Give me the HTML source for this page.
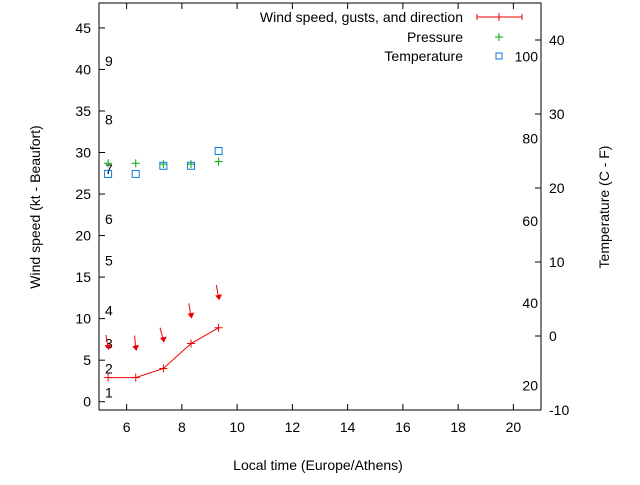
<!DOCTYPE html>
<html><head><meta charset="utf-8"><style>
body{margin:0;background:#fff}
svg{font-family:"Liberation Sans",sans-serif;font-size:14px}
</style></head><body>
<svg id="c" width="640" height="480" xmlns="http://www.w3.org/2000/svg">
<rect width="640" height="480" fill="#fff"/>
<g id="g"></g>
</svg>
<script>
const times=[5.33,6.33,7.33,8.33,9.33];
const windKt=[2.9,2.9,4.0,7.0,8.9];
const gustKt=[6.5,6.4,7.4,10.3,12.5];
const dirDeg=[350,355,345,350,350];
const pressure=[28.7,28.7,28.6,28.6,28.9];
const tempC=[21.9,21.9,23.0,23.0,25.0];
const xTicks=[6,8,10,12,14,16,18,20];
const yTicks=[0,5,10,15,20,25,30,35,40,45];
const cTicks=[-10,0,10,20,30,40];
const fTicks=[20,40,60,80,100];
const beaufortLabels=['1','2','3','4','5','6','7','8','9'];
const beaufortKt=[1.1,4,7,11,17,22,28,34,41];

const L=99,R=541,T=3,B=410;
const X=v=>L+(v-5)/16*(R-L);
const Y=v=>B-(v+1)/49*(B-T);
const YC=v=>B-(v+10)/55*(B-T);
const g=document.getElementById('g');
const NS='http://www.w3.org/2000/svg';
function mk(t,a,name){const e=document.createElementNS(NS,t);for(const k in a)e.setAttribute(k,a[k]);


g.appendChild(e);return e;}
function txt(x,y,s,anchor,name,rot){const e=mk('text',{x:x,y:y,'text-anchor':anchor||'middle',fill:'#000'},name);if(rot)e.setAttribute('transform',rot);e.textContent=s;return e;}

mk('rect',{x:L,y:T,width:R-L,height:B-T,fill:'none',stroke:'#000','stroke-width':1},'plot-frame');
xTicks.forEach(v=>{const x=X(v);
mk('line',{x1:x,y1:B,x2:x,y2:B-6,stroke:'#000'},'x-tick');
mk('line',{x1:x,y1:T,x2:x,y2:T+6,stroke:'#000'},'x-tick-top');
txt(x,B+22,String(v),'middle','x-tick-label');});
yTicks.forEach(v=>{const y=Y(v);
mk('line',{x1:L,y1:y,x2:L+6,y2:y,stroke:'#000'},'y-tick');
txt(L-8,y+5,String(v),'end','y-tick-label');});
cTicks.forEach(v=>{const y=YC(v);
mk('line',{x1:R,y1:y,x2:R-6,y2:y,stroke:'#000'},'y2-tick');
txt(R+8,y+5,String(v),'start','y2-tick-label');});
fTicks.forEach(v=>{const y=YC((v-32)*5/9);
txt(R-3,y+5,String(v),'end','fahrenheit-label');});
beaufortLabels.forEach((s,i)=>txt(105,Y(beaufortKt[i])+5,s,'start','beaufort-label'));

txt(318,470,'Local time (Europe/Athens)','middle','x-axis-title');
txt(0,0,'Wind speed (kt - Beaufort)','middle','y-axis-title','translate(40,207) rotate(-90)');
txt(0,0,'Temperature (C - F)','middle','y2-axis-title','translate(609,207) rotate(-90)');

let d='';times.forEach((t,i)=>{d+=(i?'L':'M')+X(t)+','+Y(windKt[i]);});
mk('path',{d:d,fill:'none',stroke:'#e00','stroke-width':1},'wind-speed-line');
times.forEach((t,i)=>{const x=X(t),y=Y(windKt[i]);
mk('path',{d:`M${x-4},${y}h8M${x},${y-4}v8`,stroke:'#e00','stroke-width':1},'wind-speed-point');});
times.forEach((t,i)=>{const x=X(t),y=Y(gustKt[i]);const a=dirDeg[i]*Math.PI/180;
const tx=x+Math.sin(a)*13,ty=y-Math.cos(a)*13;
mk('line',{x1:tx,y1:ty,x2:x,y2:y,stroke:'#e00','stroke-width':1},'gust-direction-arrow');
mk('path',{d:`M${x-2.5},${y-2}L${x+2.5},${y-3}L${x+0.5},${y+1.5}Z`,fill:'#e00',stroke:'#e00','stroke-width':1},'gust-arrow-head');});
times.forEach((t,i)=>{const x=X(t),y=Y(pressure[i]);
mk('path',{d:`M${x-4},${y}h8M${x},${y-4}v8`,stroke:'#0a0','stroke-width':1},'pressure-point');});
times.forEach((t,i)=>{const x=X(t),y=YC(tempC[i]);
mk('rect',{x:x-3.5,y:y-3.5,width:7,height:7,fill:'none',stroke:'#0a7ae0','stroke-width':1},'temperature-point');});

txt(463,22,'Wind speed, gusts, and direction','end','legend-wind-label');
mk('path',{d:'M477,17H522M477,14v6M522,14v6M499,13v8',stroke:'#e00'},'legend-wind-sample');
txt(463,42,'Pressure','end','legend-pressure-label');
mk('path',{d:'M495,37h8M499,33v8',stroke:'#0a0'},'legend-pressure-sample');
txt(463,61,'Temperature','end','legend-temperature-label');
mk('rect',{x:496,y:53,width:6,height:6,fill:'none',stroke:'#0a7ae0'},'legend-temperature-sample');
</script>
</body></html>
